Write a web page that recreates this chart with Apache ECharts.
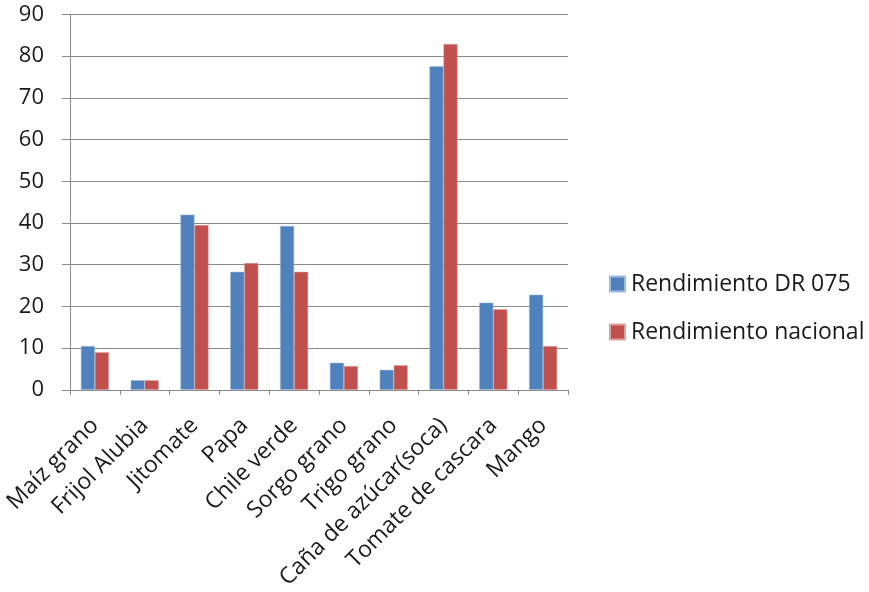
<!DOCTYPE html>
<html>
<head>
<meta charset="utf-8">
<script src="https://cdn.jsdelivr.net/npm/echarts@6/dist/echarts.min.js"></script>
<style>
  html, body { margin: 0; padding: 0; background: #fff; }
  #chart { width: 869px; height: 592px; }
</style>
</head>
<body>
<div id="chart"></div>
<script>
// Cultivos comparados
const categories = ['Maíz grano', 'Frijol Alubia', 'Jitomate', 'Papa', 'Chile verde',
  'Sorgo grano', 'Trigo grano', 'Caña de azúcar(soca)', 'Tomate de cascara', 'Mango'];
// Rendimiento del distrito de riego 075
const rendimientoDR075 = [10.5, 2.3, 42.0, 28.3, 39.3, 6.5, 4.8, 77.6, 20.9, 22.8];
// Rendimiento promedio nacional
const rendimientoNacional = [9.0, 2.3, 39.5, 30.4, 28.3, 5.7, 5.9, 82.9, 19.3, 10.5];
// Marcas del eje vertical
const yTicks = [0, 10, 20, 30, 40, 50, 60, 70, 80, 90];

const FONT = 'Open Sans';
const TEXT = '#1a1a1a';
const AXIS_GREY = '#8a8a8a';

const chart = echarts.init(document.getElementById('chart'), null, { renderer: 'canvas' });
chart.setOption({
  animation: false,
  textStyle: { fontFamily: FONT, color: TEXT },
  grid: { left: 70, right: 301, top: 14.5, bottom: 202, containLabel: false },
  legend: {
    orient: 'vertical',
    left: 609,
    top: 272,
    padding: 0,
    itemWidth: 15,
    itemHeight: 15,
    itemGap: 24,
    icon: 'rect',
    textStyle: { fontFamily: FONT, fontSize: 23, lineHeight: 24, color: TEXT, padding: [0, 0, 0, 1] },
    data: ['Rendimiento DR 075', 'Rendimiento nacional']
  },
  xAxis: {
    type: 'category',
    data: categories,
    axisLine: { lineStyle: { color: AXIS_GREY, width: 1 } },
    axisTick: { show: true, length: 5, alignWithLabel: false, lineStyle: { color: AXIS_GREY } },
    axisLabel: {
      interval: 0,
      rotate: 45,
      margin: 32,
      fontFamily: FONT,
      fontSize: 23,
      color: TEXT
    }
  },
  yAxis: {
    type: 'value',
    min: yTicks[0],
    max: yTicks[yTicks.length - 1],
    interval: 10,
    axisLine: { show: true, lineStyle: { color: AXIS_GREY, width: 1 } },
    axisTick: { show: true, length: 8, lineStyle: { color: AXIS_GREY } },
    axisLabel: { margin: 26, fontFamily: FONT, fontSize: 22, color: TEXT },
    splitLine: { show: true, lineStyle: { color: AXIS_GREY, width: 1 } }
  },
  series: [
    {
      name: 'Rendimiento DR 075',
      type: 'bar',
      data: rendimientoDR075,
      barWidth: 14,
      barGap: '0%',
      itemStyle: { color: '#4F81BD', borderColor: '#9bbbe0', borderWidth: 0.5 }
    },
    {
      name: 'Rendimiento nacional',
      type: 'bar',
      data: rendimientoNacional,
      barWidth: 14,
      barGap: '0%',
      itemStyle: { color: '#C0504D', borderColor: '#e0a09e', borderWidth: 0.5 }
    }
  ]
});
</script>
</body>
</html>
